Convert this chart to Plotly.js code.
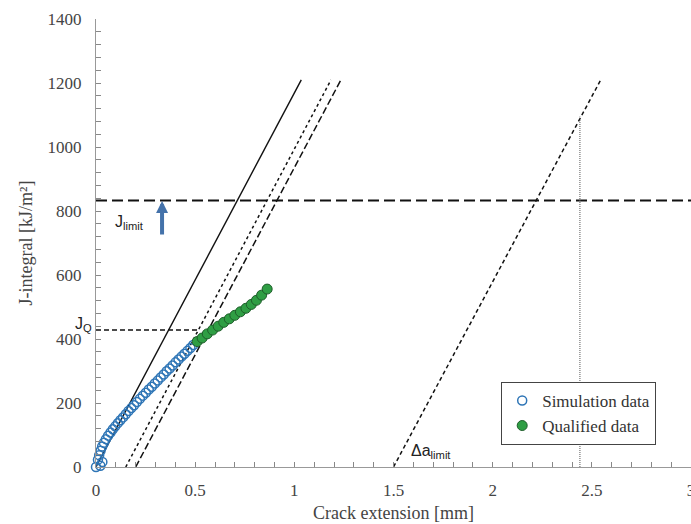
<!DOCTYPE html>
<html>
<head>
<meta charset="utf-8">
<script src="https://cdn.plot.ly/plotly-3.0.1.min.js"></script>
<style>html,body{margin:0;padding:0;background:#fff;}#chart{width:691px;height:524px;}</style>
</head>
<body>
<div id="chart"></div>
<script>
// ---- Data ----
const simX = [0, 0.022, 0.032, 0.010, 0.016, 0.023, 0.031, 0.040, 0.050, 0.061, 0.073, 0.085, 0.097, 0.110, 0.123, 0.136, 0.150, 0.164, 0.178, 0.192, 0.206, 0.221, 0.236, 0.251, 0.266, 0.281, 0.296, 0.311, 0.326, 0.341, 0.356, 0.371, 0.386, 0.401, 0.416, 0.431, 0.446, 0.461, 0.476, 0.490];
const simY = [0, 4, 16, 23, 37, 51, 64, 76, 87, 98, 108, 118, 127, 137, 146, 155, 165, 175, 184, 193, 203, 213, 223, 232, 242, 251, 261, 270, 280, 289, 299, 308, 317, 327, 336, 345, 354, 363, 372, 381];
const qualX = [0.510, 0.535, 0.561, 0.588, 0.616, 0.644, 0.672, 0.700, 0.728, 0.756, 0.783, 0.809, 0.835, 0.863];
const qualY = [392, 403, 416, 428, 440, 452, 463, 474, 485, 496, 508, 521, 537, 556];

const bluntX = [0, 1.035];       const bluntY = [0, 1210];
const off015X = [0.15, 1.185];   const off015Y = [0, 1210];
const off020X = [0.20, 1.235];   const off020Y = [0, 1210];
const daLimX = [1.5, 2.545];     const daLimY = [0, 1210];
const jLimX = [0, 3];            const jLimY = [833, 833];
const jQX = [0, 0.52];           const jQY = [428, 428];
const vertX = [2.44, 2.44];      const vertY = [0, 1095];
const arrowX = [0.333, 0.333];   const arrowY = [722, 831];

const xTickVals = [0, 0.5, 1, 1.5, 2, 2.5, 3];
const xTickText = ['0', '0.5', '1', '1.5', '2', '2.5', '3'];
const yTickVals = [0, 200, 400, 600, 800, 1000, 1200, 1400];
const yTickText = ['0', '200', '400', '600', '800', '1000', '1200', '1400'];

const labels = {jlim: 'J<sub>limit</sub>', jq: 'J<sub>Q</sub>', dalim: 'Δa<sub>limit</sub>'};

// ---- Traces ----
function line(x, y, dash, width, color) {
  return {x: x, y: y, mode: 'lines', type: 'scatter', showlegend: false, hoverinfo: 'skip',
          line: {color: color || '#111', width: width, dash: dash}};
}
const traces = [
  line(bluntX, bluntY, 'solid', 1.4),
  line(off015X, off015Y, '3px,3px', 1.5),
  line(off020X, off020Y, '7px,3px', 1.5),
  line(daLimX, daLimY, '4px,3px', 1.5),
  line(jLimX, jLimY, '11px,5px', 2),
  line(jQX, jQY, '5px,3px', 1.5),
  line(vertX, vertY, '1px,1px', 1, '#555'),
  {x: simX, y: simY, mode: 'markers', type: 'scatter', name: 'Simulation data', cliponaxis: false,
   marker: {symbol: 'circle-open', size: 9, color: '#2E75B6', line: {width: 1.5, color: '#2E75B6'}}},
  {x: qualX, y: qualY, mode: 'markers', type: 'scatter', name: 'Qualified data',
   marker: {symbol: 'circle', size: 10, color: '#2F9E44', line: {width: 1, color: '#1E5E2A'}}}
];

const serif = "'Liberation Serif'";
const sans = "'Liberation Sans'";

const layout = {
  width: 691, height: 524,
  margin: {l: 96, r: 0, t: 19, b: 57},
  paper_bgcolor: '#fff', plot_bgcolor: '#fff',
  showlegend: true,
  legend: {x: 0.681, y: 0.19, xanchor: 'left', yanchor: 'top',
           bgcolor: '#fff', bordercolor: '#444', borderwidth: 1,
           font: {family: serif, size: 17, color: '#333'},
           itemwidth: 30, tracegroupgap: 4},
  xaxis: {range: [0, 3], tickvals: xTickVals, ticktext: xTickText,
          ticks: 'inside', ticklen: 5, tickcolor: '#888',
          minor: {dtick: 0.1, ticks: 'inside', ticklen: 5, tickcolor: '#888'},
          showline: true, linecolor: '#999', linewidth: 1, showgrid: false, zeroline: false,
          tickfont: {family: serif, size: 17, color: '#444'}, ticklabelstandoff: 8,
          ticklabeloverflow: 'allow',
          title: {text: 'Crack extension [mm]', font: {family: serif, size: 18, color: '#444'}, standoff: 6},
          automargin: false, fixedrange: true},
  yaxis: {range: [0, 1400], tickvals: yTickVals, ticktext: yTickText,
          ticks: 'inside', ticklen: 5, tickcolor: '#888',
          minor: {dtick: 40, ticks: 'inside', ticklen: 5, tickcolor: '#888'},
          showline: true, linecolor: '#999', linewidth: 1, showgrid: false, zeroline: false,
          tickfont: {family: serif, size: 17, color: '#444'}, ticklabelstandoff: 10,
          title: {text: 'J-integral [kJ/m²]', font: {family: serif, size: 18, color: '#444'}, standoff: 10},
          automargin: false, fixedrange: true},
  annotations: [
    {x: 0.17, y: 765, xref: 'x', yref: 'y', text: labels.jlim, showarrow: false,
     font: {family: sans, size: 16, color: '#222'}},
    {x: -0.003, y: 446, xref: 'paper', yref: 'y', xanchor: 'right', text: labels.jq, showarrow: false,
     font: {family: sans, size: 16, color: '#222'}},
    {x: 1.69, y: 47, xref: 'x', yref: 'y', text: labels.dalim, showarrow: false,
     font: {family: sans, size: 16, color: '#222'}},
    {x: arrowX[0], y: arrowY[1], ax: arrowX[0], ay: arrowY[0], xref: 'x', yref: 'y', axref: 'x', ayref: 'y',
     text: '', showarrow: true, arrowhead: 2, arrowsize: 0.6, arrowwidth: 4, arrowcolor: '#4472AA'}
  ]
};

Plotly.newPlot('chart', traces, layout, {displayModeBar: false, staticPlot: true});
</script>
</body>
</html>
